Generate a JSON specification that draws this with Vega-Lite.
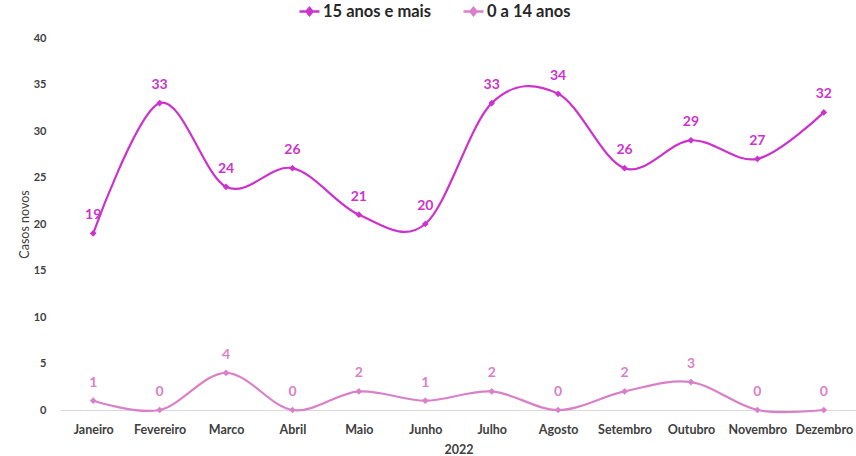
{
  "$schema": "https://vega.github.io/schema/vega-lite/v6.json",
  "autosize": {"type": "none"},
  "width": 797,
  "height": 372,
  "padding": {"left": 60, "top": 38, "right": 0, "bottom": 46},
  "background": "white",
  "config": {
    "font": "Lato",
    "view": {"stroke": null},
    "axis": {"labelFont": "Lato", "titleFont": "Lato", "labelColor": "#404040", "titleColor": "#404040"}
  },
  "data": {
    "values": [
      {"mes": "Janeiro", "serie": "15 anos e mais", "casos": 19},
      {"mes": "Fevereiro", "serie": "15 anos e mais", "casos": 33},
      {"mes": "Marco", "serie": "15 anos e mais", "casos": 24},
      {"mes": "Abril", "serie": "15 anos e mais", "casos": 26},
      {"mes": "Maio", "serie": "15 anos e mais", "casos": 21},
      {"mes": "Junho", "serie": "15 anos e mais", "casos": 20},
      {"mes": "Julho", "serie": "15 anos e mais", "casos": 33},
      {"mes": "Agosto", "serie": "15 anos e mais", "casos": 34},
      {"mes": "Setembro", "serie": "15 anos e mais", "casos": 26},
      {"mes": "Outubro", "serie": "15 anos e mais", "casos": 29},
      {"mes": "Novembro", "serie": "15 anos e mais", "casos": 27},
      {"mes": "Dezembro", "serie": "15 anos e mais", "casos": 32},
      {"mes": "Janeiro", "serie": "0 a 14 anos", "casos": 1},
      {"mes": "Fevereiro", "serie": "0 a 14 anos", "casos": 0},
      {"mes": "Marco", "serie": "0 a 14 anos", "casos": 4},
      {"mes": "Abril", "serie": "0 a 14 anos", "casos": 0},
      {"mes": "Maio", "serie": "0 a 14 anos", "casos": 2},
      {"mes": "Junho", "serie": "0 a 14 anos", "casos": 1},
      {"mes": "Julho", "serie": "0 a 14 anos", "casos": 2},
      {"mes": "Agosto", "serie": "0 a 14 anos", "casos": 0},
      {"mes": "Setembro", "serie": "0 a 14 anos", "casos": 2},
      {"mes": "Outubro", "serie": "0 a 14 anos", "casos": 3},
      {"mes": "Novembro", "serie": "0 a 14 anos", "casos": 0},
      {"mes": "Dezembro", "serie": "0 a 14 anos", "casos": 0}
    ]
  },
  "encoding": {
    "x": {
      "field": "mes", "type": "ordinal", "sort": null,
      "scale": {"type": "point", "padding": 0.5},
      "axis": {"title": "2022", "labelAngle": 0, "ticks": false, "labelFontSize": 12.5, "labelFontWeight": "bold", "labelPadding": 13, "titleFontSize": 12.5, "titleFontWeight": "bold", "titlePadding": 8, "domainColor": "#d9d9d9", "grid": false}
    },
    "y": {
      "field": "casos", "type": "quantitative",
      "scale": {"domain": [0, 40]},
      "axis": {"title": "Casos novos", "values": [0,5,10,15,20,25,30,35,40], "grid": false, "domain": false, "ticks": false, "labelFontSize": 11, "labelFontWeight": "bold", "labelPadding": 14, "titleFontSize": 12.5, "titleFontWeight": "normal", "titlePadding": 2}
    },
    "color": {
      "field": "serie", "type": "nominal",
      "scale": {"domain": ["15 anos e mais", "0 a 14 anos"], "range": ["#CC33CC", "#DA80C8"]},
      "legend": {
        "title": null, "orient": "none", "direction": "horizontal", "legendX": 238, "legendY": -38,
        "labelFontSize": 16.5, "labelFontWeight": "bold", "labelColor": "#262626",
        "symbolType": "M-1,0H1M0,-0.35L0.3,0L0,0.35L-0.3,0Z", "symbolSize": 400, "symbolStrokeWidth": 2.5,
        "columnPadding": 26, "labelOffset": 2
      }
    }
  },
  "layer": [
    {
      "mark": {"type": "line", "interpolate": "cardinal", "strokeWidth": 2.2, "point": {"shape": "diamond", "filled": true, "size": 45}}
    },
    {
      "mark": {"type": "text", "dy": -18, "fontSize": 14, "fontWeight": "bold", "font": "Lato"},
      "encoding": {"text": {"field": "casos", "type": "quantitative"}}
    }
  ]
}
